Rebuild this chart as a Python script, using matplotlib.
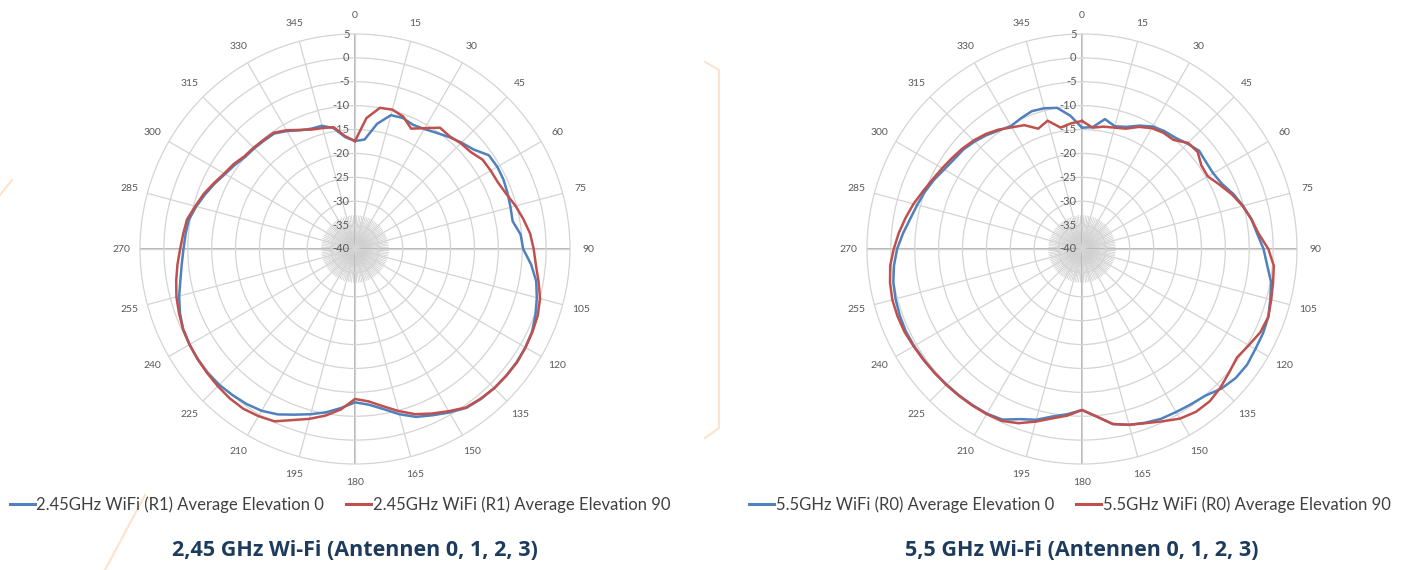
import numpy as np
import matplotlib.pyplot as plt
import matplotlib.transforms as mtransforms
from matplotlib.lines import Line2D

# angles in degrees (Excel radar, 0 at top, clockwise)
angles_deg = list(range(0, 360, 5))

# 2.45 GHz WiFi (R1), dB
wifi24_elev0 = [-17.4, -17.0, -13.4, -11.0, -10.8, -11.3, -11.0, -10.3, -9.4, -8.5, -7.6, -5.8,
                -5.6, -5.7, -6.0, -6.3, -6.5, -5.2, -4.8, -3.0, -1.5, -0.6, 0.2, 0.9,
                1.2, 1.3, 1.3, 1.2, 1.0, 0.6, -0.5, -1.6, -2.6, -4.2, -6.0, -7.3,
                -7.9, -6.6, -5.3, -4.2, -3.1, -1.8, -0.9, -0.4, -0.1, 0.2, 0.3, 0.2,
                0.0, -0.3, -1.0, -1.9, -2.9, -3.6, -4.1, -4.4, -4.7, -5.6, -6.6, -7.6,
                -8.6, -9.3, -10.0, -10.2, -10.4, -10.5, -11.5, -12.6, -13.2, -13.3, -14.3, -16.5]
wifi24_elev90 = [-17.4, -12.5, -10.0, -9.8, -10.5, -12.2, -10.8, -9.0, -9.2, -8.7, -8.4, -7.4,
                 -7.2, -7.0, -6.3, -5.2, -4.2, -3.2, -2.6, -2.0, -1.0, 0.1, 0.7, 1.0,
                 1.2, 1.4, 1.3, 1.2, 0.9, 0.5, -0.8, -2.0, -3.2, -4.9, -6.6, -8.0,
                 -8.6, -6.3, -4.6, -3.2, -1.9, -0.2, 0.4, 0.8, 0.8, 0.6, 0.4, 0.2,
                 0.0, -0.3, -0.8, -1.3, -2.0, -2.7, -3.4, -3.9, -4.3, -5.4, -6.3, -7.4,
                 -8.4, -9.0, -9.8, -10.0, -10.2, -10.3, -11.3, -12.5, -13.4, -13.8, -14.1, -16.3]

# 5.5 GHz WiFi (R0), dB
wifi55_elev0 = [-14.6, -14.4, -12.4, -13.4, -12.8, -11.5, -10.4, -9.9, -9.6, -8.8, -8.0, -8.3,
                -8.3, -7.7, -6.3, -5.1, -4.0, -3.2, -2.0, -1.1, 0.2, 0.8, 1.5, 1.8,
                1.9, 2.2, 2.0, 1.3, 0.1, -0.3, -0.6, -0.8, -1.3, -1.9, -2.8, -4.8,
                -6.3, -5.3, -4.4, -3.0, -2.1, -0.6, -0.2, -0.1, 0.0, 0.1, 0.3, 0.4,
                0.6, 0.7, 0.6, 0.4, 0.1, -0.5, -1.3, -2.4, -3.5, -4.3, -5.0, -5.8,
                -6.7, -7.3, -7.6, -8.2, -8.9, -9.7, -10.3, -9.8, -9.3, -9.5, -10.0, -12.0]
wifi55_elev90 = [-13.2, -14.5, -14.0, -13.7, -13.2, -11.8, -10.8, -10.3, -10.2, -8.6, -8.4, -9.5,
                 -9.6, -8.2, -6.6, -5.2, -4.0, -2.9, -1.0, 0.3, 0.6, 1.0, 1.5, 1.2,
                 0.3, -0.4, 0.2, 1.0, 1.6, 1.6, 1.0, -0.2, -1.2, -1.9, -2.8, -4.8,
                 -6.3, -5.0, -4.0, -2.6, -1.2, -0.3, -0.1, 0.0, 0.1, 0.2, 0.3, 0.5,
                 0.7, 1.0, 1.1, 1.1, 0.8, 0.3, -0.6, -1.5, -2.5, -3.5, -4.6, -5.5,
                 -6.2, -6.8, -7.3, -7.9, -8.6, -9.5, -10.6, -11.4, -13.2, -12.2, -14.2, -13.6]

r_ticks = [-40, -35, -30, -25, -20, -15, -10, -5, 0, 5]
theta_ticks = list(range(0, 360, 15))

legend24 = ['2.45GHz WiFi (R1) Average Elevation 0', '2.45GHz WiFi (R1) Average Elevation 90']
legend55 = ['5.5GHz WiFi (R0) Average Elevation 0', '5.5GHz WiFi (R0) Average Elevation 90']
caption24 = '2,45 GHz Wi-Fi (Antennen 0, 1, 2, 3)'
caption55 = '5,5 GHz Wi-Fi (Antennen 0, 1, 2, 3)'

BLUE = '#4f81bd'
RED = '#c0504d'
GRID = '#d4d4d4'
AXIS = '#b5b5b5'
TXT = '#595959'
NAVY = '#1d3b5c'
ORANGE = '#fde3cc'

W, H = 1416, 570
fig = plt.figure(figsize=(W / 100, H / 100), dpi=100)


def radar(cx, cy, rad, e0, e90, labels, caption, leg_x):
    ax = fig.add_axes([(cx - rad) / W, (H - cy - rad) / H, 2 * rad / W, 2 * rad / H],
                      projection='polar')
    ax.set_theta_zero_location('N')
    ax.set_theta_direction(-1)
    ax.set_ylim(r_ticks[0], r_ticks[-1])
    ax.set_yticks(r_ticks[1:-1])
    ax.set_yticklabels([])
    ax.set_xticks(np.deg2rad(theta_ticks))
    ax.set_xticklabels([])
    ax.grid(True, color=GRID, lw=0.9)
    ax.spines['polar'].set_color(GRID)
    ax.spines['polar'].set_linewidth(0.9)
    ax.tick_params(length=0)

    # dense category spokes near the centre
    for a in np.arange(0, 360, 3):
        ax.plot([np.deg2rad(a)] * 2, [-40, -33], color='#c8c8c8', lw=0.5, zorder=1)
    # main axes
    for a in [0, 90, 180, 270]:
        ax.plot([np.deg2rad(a)] * 2, [-40, 5], color=AXIS, lw=1.4, zorder=1)

    th = np.deg2rad(angles_deg + [angles_deg[0]])
    ax.plot(th, e0 + [e0[0]], color=BLUE, lw=1.8, zorder=3)
    ax.plot(th, e90 + [e90[0]], color=RED, lw=1.8, zorder=4)

    for a in theta_ticks:
        ax.text(np.deg2rad(a), 5 + 3.9, str(a), ha='center', va='center', fontsize=7.5,
                color=TXT, family='Lato')
    off = ax.transData + mtransforms.ScaledTranslation(-4 / 72, 0, fig.dpi_scale_trans)
    for r in r_ticks:
        ax.text(0, r, str(r), transform=off, ha='right', va='center', fontsize=8,
                color=TXT, family='Lato')

    handles = [Line2D([], [], color=BLUE, lw=2.2), Line2D([], [], color=RED, lw=2.2)]
    fig.legend(handles, labels, loc='center', bbox_to_anchor=(leg_x / W, 1 - 505 / H),
               ncol=2, frameon=False, handlelength=1.5, handletextpad=0.1,
               columnspacing=1.3, prop={'family': 'Lato', 'size': 12}, labelcolor='#404040')
    fig.text(cx / W, 1 - 551 / H, caption, ha='center', va='center', fontsize=15.5,
             weight='bold', color=NAVY, family='Open Sans')
    return ax


radar(355, 249, 215, wifi24_elev0, wifi24_elev90, legend24, caption24, 340)
radar(1082, 249, 215, wifi55_elev0, wifi55_elev90, legend55, caption55, 1070)

# faint decorative orange strokes of the page background
deco = [([0, 12], [195, 180]), ([145, 105], [495, 570]),
        ([705, 719, 719, 705], [62, 70, 428, 438])]
for xs, ys in deco:
    fig.add_artist(Line2D([x / W for x in xs], [1 - y / H for y in ys], color=ORANGE,
                          lw=1.5, transform=fig.transFigure, zorder=0))

fig.savefig('out.png', dpi=100)
